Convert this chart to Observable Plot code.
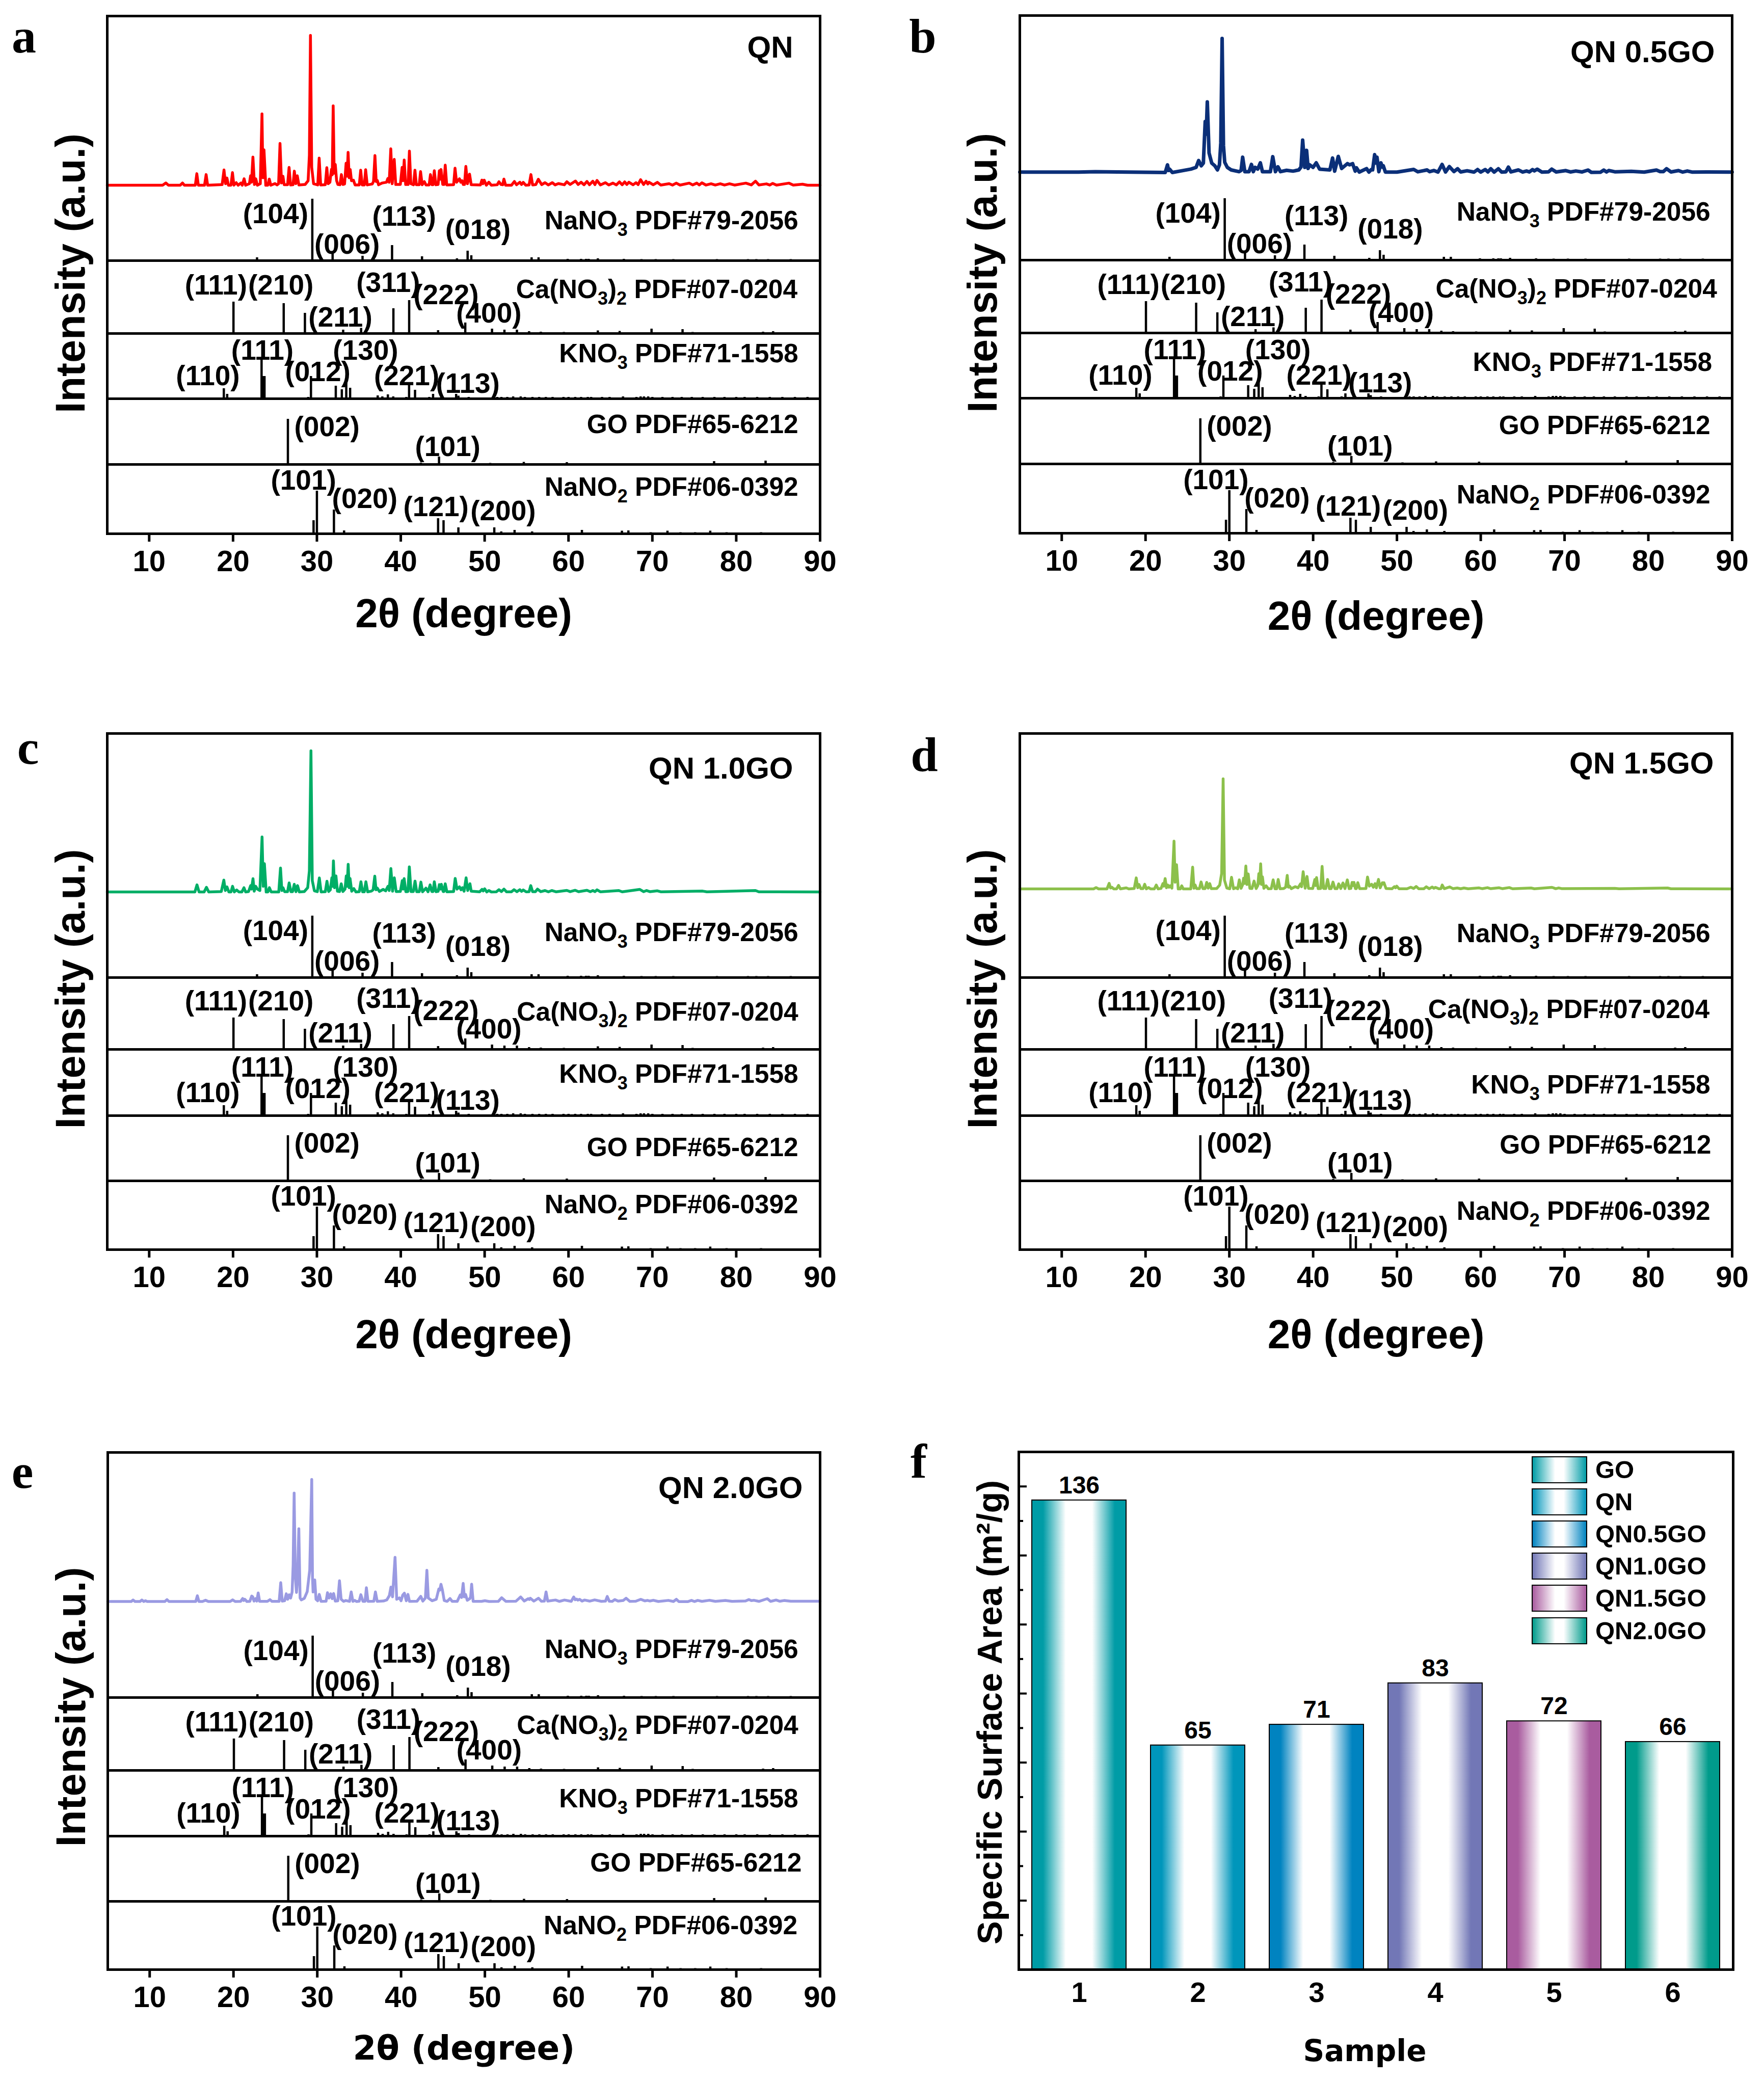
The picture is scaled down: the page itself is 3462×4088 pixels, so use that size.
<!DOCTYPE html>
<html>
<head>
<meta charset="utf-8">
<script src="https://cdn.jsdelivr.net/npm/d3@7"></script>
<script src="https://cdn.jsdelivr.net/npm/@observablehq/plot@0.6"></script>
<style>
html,body{margin:0;padding:0;background:#fff}
#page{position:relative;width:3462px;height:4088px;background:#fff;overflow:hidden;font-family:"Liberation Sans",Arial,sans-serif}
.letter{position:absolute;font:bold 96px "Liberation Serif",serif;line-height:1;color:#000}
.swatch{position:absolute;width:109px;height:53px;box-sizing:border-box;border:2px solid #000}
.legtext{position:absolute;font:bold 49px "Liberation Sans",sans-serif;line-height:53px;color:#000}
</style>
</head>
<body>
<div id="page"></div>
<script>
// ---------- XRD curves: [2theta, relative intensity] ----------
const qnCurve = [[5,0],[11.6,0],[11.99,1.5],[12.3,0],[13.7,0],[13.97,1.5],[14.2,0],[15.5,0],[15.68,7.7],[15.86,0],[16.6,0],[16.79,7.1],[16.97,0],[18.7,.4],[18.92,10.2],[19.1,1],[19.27,4.8],[19.45,0],[19.75,0],[19.93,8.4],[20.1,0],[20.38,1.7],[20.6,0],[20.94,1.5],[21.1,0],[21.32,4.3],[21.5,0],[21.95,1],[22.09,6.3],[22.2,2],[22.37,18.8],[22.55,.5],[22.71,4.3],[22.9,0],[23.25,1],[23.45,47.6],[23.56,5],[23.69,23.6],[23.9,0],[24.15,0],[24.32,4.1],[24.5,0],[25,1.1],[25.25,.2],[25.43,1],[25.6,27.9],[25.78,1.5],[25.95,6],[26.1,.3],[26.5,.3],[26.68,11.9],[26.86,.2],[27.15,.3],[27.31,9.4],[27.48,1],[27.66,6.3],[27.85,.2],[28.6,.5],[28.95,3],[29.1,20],[29.23,100],[29.38,12],[29.6,1],[30.1,.2],[30.27,18.1],[30.45,.2],[31,.3],[31.18,11.7],[31.35,1],[31.55,2],[31.73,10.5],[31.83,7],[31.94,53],[32.06,8],[32.19,13.9],[32.35,3],[32.5,.5],[32.75,.3],[32.92,7.1],[33.1,.5],[33.3,.8],[33.48,14.7],[33.6,6],[33.72,21.9],[33.85,5],[33.97,10.5],[34.12,3],[34.35,3.4],[34.55,.2],[35.05,.2],[35.22,10],[35.4,.2],[35.65,.2],[35.81,10.4],[36,.2],[36.6,.8],[36.75,2.5],[36.92,19.8],[37.07,2.5],[37.2,3.2],[37.35,.3],[37.8,1.5],[38.3,2],[38.46,4.5],[38.62,2],[38.81,24.3],[38.98,1],[39.22,17.3],[39.4,.5],[39.95,.5],[40.16,11.9],[40.27,3],[40.41,16.8],[40.58,.5],[40.87,.5],[41.03,22.8],[41.2,1],[41.52,.3],[41.69,10],[41.86,.3],[42.2,.3],[42.36,9.1],[42.55,.3],[42.81,2.4],[43,.2],[43.38,.2],[43.54,7.1],[43.72,.3],[43.84,.3],[44,9.7],[44.18,.3],[44.45,.5],[44.6,9.7],[44.7,4],[44.8,10.5],[45,.5],[45.15,.5],[45.3,13.4],[45.48,.2],[46.3,.3],[46.47,11.4],[46.65,2],[47,4.3],[47.15,2],[47.3,3],[47.45,.5],[47.6,.5],[47.76,12.6],[47.95,1],[48.2,7.4],[48.4,.3],[49.5,.2],[49.67,3.4],[49.8,1],[49.95,3.4],[50.2,0],[50.5,2],[50.8,0],[51.5,.3],[51.7,2.3],[51.95,.5],[52.15,.3],[52.3,4.1],[52.5,0],[53.2,0],[53.55,2.5],[53.8,.3],[54.2,2],[54.4,.5],[54.6,1.9],[54.9,0],[55.3,.2],[55.52,7.1],[55.72,.2],[56.1,.4],[56.4,4],[56.8,.4],[57.2,1.7],[57.6,.2],[58.07,1.7],[58.4,.2],[58.8,1.1],[59.5,.3],[59.8,2.3],[60.2,.5],[60.83,2.8],[61.15,.5],[61.5,2],[61.85,.3],[62.2,2.5],[62.5,.3],[62.9,2.7],[63.15,.4],[63.4,3.2],[63.8,.2],[64.4,1.7],[64.8,.2],[65.3,1.4],[65.7,.2],[66.07,2.2],[66.4,.3],[66.7,2.2],[66.95,.5],[67.2,2],[67.7,.3],[68.05,1.7],[68.3,.4],[68.6,3.7],[68.95,.5],[69.25,2.7],[69.45,.8],[69.6,2],[70.1,.3],[70.6,1.9],[71,.1],[72,1],[72.4,.1],[72.85,1.4],[73.3,.1],[74.4,1.4],[74.8,.2],[75.3,1.4],[75.6,.2],[75.9,1.6],[76.4,.1],[77,1],[77.5,.1],[78.1,1],[78.6,.1],[79.2,1],[79.8,.1],[81.15,1.4],[81.8,.2],[82.3,2.7],[82.7,.2],[83.6,.9],[84,.1],[84.35,1.2],[84.8,.1],[86.3,1.4],[86.8,.1],[87.9,.7],[88.5,0],[90,0]];

const qn05Curve = [[5,.3],[12,.3],[14,.6],[18,.3],[22.35,0],[22.62,5.7],[22.75,1.5],[22.87,2.5],[23.2,0],[24.33,1.3],[25.41,2.5],[26.03,3.8],[26.34,8.9],[26.65,5],[26.9,7],[27.12,38],[27.24,28.6],[27.37,52.7],[27.58,14.6],[27.9,7],[28.27,5],[28.58,1.9],[28.82,5.7],[28.98,22],[29.14,100],[29.3,20],[29.45,7.6],[29.76,3.8],[30.22,1.9],[31.15,.6],[31.4,1.5],[31.59,11.4],[31.85,.6],[32.35,.6],[32.64,6],[32.86,.6],[33.08,3.8],[33.39,2.5],[33.7,7.2],[33.95,.6],[34.9,.6],[35.18,11.8],[35.5,.6],[35.8,4.2],[36.1,.6],[36.83,1.6],[37.6,1],[38.29,1.9],[38.55,4],[38.75,24.1],[39,3.8],[39.22,16.5],[39.4,3],[39.59,5.7],[39.99,3.8],[40.37,7.2],[40.77,2.5],[42,1.9],[42.32,10.8],[42.57,1],[43,12],[43.4,3],[44.09,6.6],[44.34,5.7],[44.71,6.6],[45.02,1],[45.17,3.5],[45.5,.3],[46.38,2.9],[46.65,.3],[46.94,2.2],[47.1,2],[47.34,13.3],[47.5,7],[47.62,11.4],[47.84,.6],[48.09,7.2],[48.25,4],[48.37,5],[48.62,.3],[50,.3],[52,2.3],[52.5,.5],[53.6,1.9],[53.9,.6],[54.4,1.5],[54.9,.3],[55.39,6],[55.8,.4],[56.25,4.4],[56.8,.7],[57.24,2.8],[57.6,.4],[58.37,1.3],[59.2,.3],[59.62,2.2],[60,.3],[60.53,2.2],[60.85,.4],[61.2,2.8],[61.6,.3],[62.1,2.8],[62.5,.3],[63,.5],[63.3,4],[63.6,.4],[64.5,1.9],[65,.3],[65.46,1.1],[65.8,.4],[66.18,2.2],[66.4,1.2],[66.74,2.5],[67.3,.3],[68.1,.5],[68.47,2.5],[69,.4],[70.15,1.4],[70.7,.4],[71.35,1.1],[72.1,.4],[72.8,1.8],[73.2,.1],[74.3,.2],[74.67,1.8],[75,.4],[75.3,1.5],[76,.5],[77.96,.9],[79.5,.3],[80.97,1.8],[81.4,.7],[81.8,.7],[82.17,2.8],[82.7,.4],[83.6,1.4],[84.1,.3],[84.65,1.1],[85.2,.3],[87,.4],[90,.3]];

const qn10Curve = [[5,0],[15.45,0],[15.7,5],[15.95,0],[16.55,0],[16.83,3.3],[17.1,0],[18.6,.3],[18.9,8.4],[19.08,1],[19.27,3.6],[19.5,0],[19.75,0],[19.94,4],[20.15,0],[20.43,1.4],[20.7,0],[21.05,0],[21.3,3],[21.5,0],[21.85,.3],[22.1,4.5],[22.2,2],[22.38,9.4],[22.52,.5],[22.7,4],[22.9,2],[23.2,1],[23.46,39],[23.6,4],[23.74,20],[23.95,0],[24.15,0],[24.33,3],[24.55,0],[25.45,0],[25.66,17],[25.82,1],[25.96,3],[26.15,.2],[26.5,.2],[26.69,6.4],[26.9,.2],[27.1,.2],[27.3,5.4],[27.5,.2],[27.69,4.5],[27.9,0],[28.5,.3],[28.9,3],[29.1,15],[29.29,100],[29.45,8],[29.7,.8],[30.05,.2],[30.29,9.9],[30.5,0],[31,.2],[31.2,7.6],[31.4,.3],[31.6,1.5],[31.78,10],[31.87,4],[31.97,22],[32.1,3],[32.27,11.4],[32.45,.5],[32.7,.3],[32.9,5.8],[33.1,.3],[33.35,2],[33.5,11.4],[33.6,4],[33.73,19.6],[33.85,3],[33.95,9.6],[34.15,.5],[34.4,2.4],[34.65,0],[35.05,.2],[35.25,7.2],[35.45,.1],[35.65,.1],[35.84,7.2],[36.05,.1],[36.5,.6],[36.7,1.5],[36.9,11.2],[37.05,1.5],[37.2,2.7],[37.45,.3],[37.9,1.8],[38.2,.8],[38.47,4],[38.62,1],[38.82,16.6],[39.02,.5],[39.23,10],[39.45,.3],[39.95,.4],[40.18,8],[40.28,2],[40.4,9.5],[40.6,.2],[40.85,.3],[41.02,17.8],[41.22,.3],[41.5,.3],[41.7,7.7],[41.9,.2],[42.2,.2],[42.4,7],[42.6,.1],[43,2.7],[43.25,.1],[43.5,5],[43.7,.3],[43.85,.3],[44,7.2],[44.2,.2],[44.45,.4],[44.6,5.2],[44.72,2],[44.84,5.4],[45.05,.3],[45.15,.3],[45.3,5.8],[45.5,.1],[46.3,.3],[46.49,9.6],[46.7,2],[47,3.6],[47.18,1.5],[47.36,3],[47.55,.5],[47.79,10],[47.98,1],[48.25,5.8],[48.4,.5],[49.4,.1],[49.69,1.8],[49.83,.7],[50,2.2],[50.25,0],[50.5,1],[50.8,0],[51.4,.1],[51.7,1.6],[52,.3],[52.3,2],[52.6,.1],[53.2,.1],[53.5,1.6],[53.85,.2],[54.2,1.6],[54.4,.4],[54.6,1.4],[54.95,.1],[55.3,.2],[55.5,4.5],[55.72,.2],[56.05,.2],[56.3,2],[56.7,.2],[57.2,1],[57.6,.1],[58,1],[58.5,.1],[59.8,1.1],[60.2,.2],[60.8,1.2],[61.2,.2],[62.2,1.2],[62.6,.2],[62.9,1],[63.15,.2],[63.4,1.5],[63.8,.1],[66,1],[66.4,.1],[68.5,1.8],[68.95,.2],[69.3,1],[69.7,.2],[70.6,.8],[71,.1],[76,.6],[76.5,.1],[82.3,1],[82.7,.1],[90,0]];

const qn15Curve = [[5,0],[13.8,0],[14.1,1.2],[14.4,0],[15.4,0],[15.66,5.1],[15.82,.8],[15.99,1.5],[16.2,0],[16.55,0],[16.78,3.2],[17,0],[17.7,.9],[18,0],[18.65,.3],[18.89,10],[19.07,1],[19.22,4],[19.45,.2],[19.7,.2],[19.9,4.2],[20.1,0],[20.36,1.2],[20.6,0],[21.05,0],[21.28,3.5],[21.5,0],[21.85,.4],[22.07,4.8],[22.18,2.5],[22.34,9.4],[22.5,1],[22.66,3.5],[22.8,1.5],[22.94,2.8],[23.15,.7],[23.4,43.4],[23.53,6],[23.7,22],[23.9,0],[24.15,0],[24.32,2.8],[24.5,0],[25.4,0],[25.62,19.8],[25.78,.6],[25.92,3.5],[26.1,.2],[26.43,.2],[26.63,6.3],[26.85,.2],[27.1,.2],[27.3,5.9],[27.47,.7],[27.66,4.8],[27.85,.2],[28.5,.4],[28.85,3.5],[29.08,14],[29.26,100],[29.42,8],[29.7,.8],[30.05,.1],[30.26,10.5],[30.5,.1],[30.75,1],[31,.1],[31.19,8.2],[31.4,.5],[31.6,4],[31.7,9.7],[31.83,5],[31.97,20.8],[32.1,4],[32.25,13.6],[32.45,.5],[32.7,.3],[32.95,7.1],[33.2,.3],[33.4,3],[33.52,13.9],[33.62,5],[33.74,22.8],[33.85,4],[33.95,11],[34.12,.5],[34.39,2.8],[34.65,.1],[35,.2],[35.23,8.2],[35.45,.1],[35.65,.1],[35.83,8.6],[36.05,.1],[36.5,.4],[36.72,1.5],[36.91,12.3],[37.05,1.5],[37.19,2.5],[37.4,.2],[37.86,2],[38.2,1],[38.49,4.6],[38.62,2],[38.81,15.6],[39.05,.6],[39.27,11.3],[39.45,.5],[39.95,.3],[40.2,8.5],[40.3,3],[40.41,10.3],[40.6,.2],[40.9,.3],[41.07,20.5],[41.25,.4],[41.5,.3],[41.72,8.6],[41.95,.2],[42.15,.2],[42.37,6.2],[42.6,.2],[42.85,.2],[43.05,4.6],[43.3,.3],[43.56,5.4],[43.8,.3],[44.08,8.2],[44.3,.2],[44.5,.4],[44.65,5.9],[44.76,3],[44.87,5.9],[45.05,.2],[45.15,.2],[45.33,5.7],[45.55,.2],[46.3,.3],[46.49,10.8],[46.7,2.5],[46.98,4.2],[47.18,1.5],[47.39,4.8],[47.55,1],[47.8,8.6],[48,1],[48.26,5.6],[48.36,4.5],[48.45,5.6],[48.7,.3],[49.4,.1],[49.7,2],[49.83,1],[49.97,2.5],[50.25,.1],[51.2,.1],[51.65,1.5],[52,.4],[52.3,2.2],[52.6,.1],[53.2,.1],[53.5,1.9],[53.85,.2],[54.2,1.7],[54.4,.6],[54.6,1.4],[55,.1],[55.25,.2],[55.4,3.5],[55.65,.2],[56.3,1.8],[56.7,.2],[57.2,.8],[57.6,.1],[58,.8],[58.5,.1],[59.8,.9],[60.2,.2],[60.8,1.1],[61.2,.2],[62.2,1],[62.6,.2],[63.4,1.2],[63.8,.1],[66,.8],[66.4,.1],[68.5,1.4],[68.95,.2],[69.3,.9],[69.7,.2],[76,.5],[76.5,.1],[82.3,.8],[82.7,.1],[90,0]];

const qn20Curve = [[5,.2],[7.8,.2],[8.02,1.4],[8.25,.2],[8.85,.2],[9.07,1.4],[9.3,.2],[9.5,.8],[9.7,.2],[11.8,.2],[12.07,1.7],[12.3,.2],[15.5,.2],[15.69,4.9],[15.88,.2],[16.3,.2],[16.67,1.2],[17,.2],[19.6,.2],[19.9,1.5],[20.2,.2],[20.85,.3],[21.1,2.6],[21.22,1],[21.35,2],[21.6,.2],[21.95,.3],[22.18,4.7],[22.3,4],[22.45,.5],[22.64,2.5],[22.78,.5],[22.95,7.2],[23.12,.3],[24.05,.3],[24.35,1.7],[24.6,.3],[25.45,.3],[25.64,15.6],[25.82,.5],[26.1,.8],[26.3,6.5],[26.47,2],[26.65,5.7],[26.82,3],[27,8],[27.12,30],[27.24,88.9],[27.38,20],[27.52,7.6],[27.65,20],[27.8,59.7],[27.95,3],[28.1,1.5],[28.46,2.8],[28.8,8.3],[29.1,26],[29.34,100],[29.43,20],[29.5,8],[29.7,17.8],[29.85,2],[30.05,.8],[30.24,6],[30.45,.3],[31.05,.4],[31.22,7.4],[31.4,3],[31.6,6.5],[31.78,2.5],[31.95,6.7],[32.15,.5],[32.45,.7],[32.65,17.2],[32.85,2],[33.15,.3],[33.4,1],[33.85,.3],[34.05,8],[34.25,.3],[34.47,1.1],[34.7,.2],[35,.4],[35.2,5.8],[35.45,.3],[35.7,.3],[35.86,11.5],[36.05,.3],[36.75,.4],[36.94,8],[37.15,.3],[37.9,.6],[38.3,1.5],[38.6,5],[38.79,12],[38.98,4],[39.28,36.4],[39.48,2],[39.8,3.2],[40,.8],[40.2,5.5],[40.4,7],[40.62,.8],[40.82,6],[41,.3],[41.9,.4],[42.35,4.4],[42.6,.5],[42.9,3],[43.08,25.7],[43.25,3],[43.7,.8],[44.2,2],[44.5,10.4],[44.62,9.5],[44.76,14.3],[44.93,9.7],[45.15,1],[45.5,.3],[45.84,2.6],[46.1,.3],[46.45,.3],[46.7,.3],[47.06,5.6],[47.22,3.5],[47.41,15],[47.55,4],[47.69,6],[47.9,1.2],[48.2,2.5],[48.3,4],[48.42,14.4],[48.6,.3],[49.6,.3],[50,.8],[50.5,.2],[51.6,.3],[52,3.3],[52.5,.3],[53.7,.4],[54.27,3.9],[54.7,.6],[55.18,2.5],[55.3,1.8],[55.42,2.9],[55.85,.5],[56.4,2.9],[56.75,.4],[57.1,.5],[57.3,8],[57.5,.5],[58.43,1.4],[58.9,.3],[59.5,1.4],[60.3,.3],[60.6,3.9],[60.78,1.6],[60.95,2.2],[61.1,1.3],[61.3,2],[61.6,.5],[61.9,1.4],[62.5,.5],[63.1,1.5],[63.9,.3],[64.4,.5],[64.6,4.3],[64.85,.4],[65.2,.3],[65.5,1.8],[65.9,.5],[66.5,1],[66.85,2.9],[67.3,.3],[68,.4],[68.6,2],[69.1,.7],[69.4,1.1],[69.7,.6],[70.1,1.2],[70.7,.2],[71.9,1.1],[72.5,.2],[72.85,2],[73.15,.1],[74.2,.1],[74.65,1.1],[75,.2],[75.4,1.1],[75.9,.3],[76.8,1.2],[77.5,.3],[78.7,1],[79.5,.3],[81.1,.6],[81.5,1.8],[81.8,.9],[82.1,1.2],[82.7,.3],[83.7,2.5],[84.1,.3],[84.75,1.4],[85.2,.4],[85.7,1],[86.5,.4],[90,.4]];

// ---------- Reference patterns: 2theta and stick height ----------
const nano3Theta  = [22.86,29.45,31.87,35.44,38.96,42.53,46.7,47.97,48.41,55.6,56.43,59.9,61.5,62.1,62.4,63.5,66.6,68.7,70.4,72.5,77.7,81.4,82.4,83.8,86.5];
const nano3Height = [6,121,15,9,30,8,4,19,10,6,6,3,3,3,3,4,3,2.5,2.5,2.5,2.5,2.5,2.5,2.5,2.5];
const canoTheta   = [20.05,26.04,28.57,33.13,35.27,39.12,41.0,44.45,47.69,50.88,52.36,53.85,55.3,56.7,59.45,63.5,66.1,69.9,73.6,74.8,83.2,84.4];
const canoHeight  = [62,59,40,7,10.5,49,65,6,21,9,7,7,4,3,2.5,5.5,4.5,9,8,2.5,3,4];
const kno3Theta   = [16.76,18.9,19.3,23.4,23.62,23.75,27.6,28.96,29.29,32.25,32.97,33.5,33.96,37.25,37.8,38.46,39.1,40.66,40.99,41.7,43.4,43.85,44.8,46.6,46.87,48.1,51.5,52,52.7,53.4,54.3,54.8,55.7,56.5,57.3,58.1,59.4,60,60.8,61.5,62.3,62.7,64,64.9,66.5,68.1,68.6,69,69.5,70,71.2,72.4,73.5,74.7,76,77.4,78.6,80,81,82.5,84,85.5,87,88.5];
const kno3Height  = [2,20,9,76,44,44,2,3,44,25,18,32,21,6,4,8,4,3,30,17,3,9,2.5,9,5.5,3,3,3,3,4,4,3,3,3,3,3,3,3,3,3,3,3,3,3,4,3,4,4,4,3,3,3,3,3,3,3,3,3,3,3,3,3,3,3];
const goTheta     = [26.54,42.4,44.56,50.66,54.67,59.8,71.4,77.36,83.5,87.1];
const goHeight    = [89,3,15,2.5,4.5,4,2,6,7,2];
const nano2Theta  = [22.9,29.6,30.0,32.03,33.24,44.45,45.1,46.87,51.15,51.98,53.57,55.66,61.6,66.37,67.14,69.8,71.8,73.35,75.1,76.9,78.85,82.96];
const nano2Height = [2,26,84,47,6,30,26,12,12,4,7,4,7,5.5,6,2.5,5.5,2.5,2.5,5.5,2.5,2.5];
const refSticks = [[nano3Theta,nano3Height],[canoTheta,canoHeight],[kno3Theta,kno3Height],[goTheta,goHeight],[nano2Theta,nano2Height]];

// ---------- Text ----------
const refNames = ["NaNO₃ PDF#79-2056","Ca(NO₃)₂ PDF#07-0204","KNO₃ PDF#71-1558","GO PDF#65-6212","NaNO₂ PDF#06-0392"];
const hklLayer = [0,0,0,0,1,1,1,1,1,1,2,2,2,2,2,2,3,3,4,4,4,4];
const hklText  = ["(104)","(006)","(113)","(018)","(111)","(210)","(211)","(311)","(222)","(400)","(110)","(111)","(012)","(130)","(221)","(113)","(002)","(101)","(101)","(020)","(121)","(200)"];
const hklTheta = [25.07,33.6,40.4,49.2,17.96,25.7,32.8,38.5,45.4,50.5,17,23.5,30.1,35.8,40.7,48,31.2,45.6,28.4,35.7,44.2,52.2];
const hklLift  = [91,31,86,60,94,94,31,99,75,39,44,94,52,94,44,29,73,34,104,68,52,44];
const xTicks = [10,20,30,40,50,60,70,80,90];

// ---------- Surface area bars ----------
const samples = [1,2,3,4,5,6];
const sampleNames = ["GO","QN","QN0.5GO","QN1.0GO","QN1.5GO","QN2.0GO"];
const surfaceArea = [136,65,71,83,72,66];
const barColors = ["#009ca6","#0096bb","#0083c0","#7277b6","#a95c9f","#009b8b"];
const majorTicks = [20,40,60,80,100,120,140];
const minorTicks = [10,30,50,70,90,110,130];

const BOLD = "Liberation Sans, Arial, sans-serif";
const page = document.getElementById("page");

// Show the subscript characters of the phase names as lowered, smaller digits.
function lowerSubscripts(svg) {
  const subs = {"₂":"2","₃":"3"};
  d3.select(svg).selectAll("text").each(function() {
    const s = this.textContent;
    if (!/[₂₃]/.test(s) || this.children.length) return;
    const node = d3.select(this).text(null);
    let lowered = false;
    s.split(/([₂₃])/).filter(p=>p).forEach(part => {
      const isSub = part in subs;
      const t = node.append("tspan").text(isSub ? subs[part] : part);
      if (isSub) t.attr("font-size",36).attr("dy", lowered ? null : 13);
      else if (lowered) t.attr("dy",-13);
      lowered = isSub;
    });
  });
  return svg;
}

function xrdPanel(c) {
  const H = c.top;
  const marks = [
    // reference sticks
    ...refSticks.map(([t,h],i) => Plot.ruleX(t.map((v,j)=>({t:v,y1:c.bases[4-i],y2:c.bases[4-i]+h[j]})),
      {x:"t",y1:"y1",y2:"y2",stroke:"#000",strokeWidth:4.5})),
    // layer dividers
    Plot.ruleY(c.bases.slice(1),{stroke:"#000",strokeWidth:5}),
    // measured curve
    Plot.line(c.curve,{x:d=>d[0],y:d=>c.base+d[1]*c.peak/100,stroke:c.color,strokeWidth:c.lw,strokeLinejoin:"round",curve:"linear"}),
    // hkl labels
    Plot.text(hklText.map((s,i)=>({s,t:hklTheta[i],y:c.bases[4-hklLayer[i]]+hklLift[i]})),
      {x:"t",y:"y",text:"s",fontSize:55,fontWeight:"bold",fill:"#000",lineAnchor:"middle"}),
    // reference names: x is the 2theta where the text ends
    Plot.text(refNames.map((s,i)=>({s,y:c.bases[4-i]+c.nameLift[i],t:c.nameEnd[i]})),
      {x:"t",y:"y",text:"s",fontSize:51.5,fontWeight:"bold",fill:"#000",textAnchor:"end",lineAnchor:"middle"}),
    // sample name
    Plot.text([c.name],{frameAnchor:"top-right",dx:c.nameX,dy:c.nameY,fontSize:60,fontWeight:"bold",fill:"#000",textAnchor:"end",lineAnchor:"middle"}),
    Plot.frame({stroke:"#000",strokeWidth:5}),
    Plot.axisX({ticks:xTicks,tickSize:16,strokeWidth:5,tickPadding:16,fontSize:58,fontWeight:"bold",fill:"#000",stroke:"#000",label:null}),
    // axis titles
    Plot.text(["2θ (degree)"],{frameAnchor:"bottom",dy:c.xTitleDy,fontSize:c.xTitleSize||80,fontFamily:c.xTitleFont||BOLD,fontWeight:"bold",fill:"#000",lineAnchor:"middle"}),
    Plot.text(["Intensity (a.u.)"],{frameAnchor:"left",textAnchor:"middle",dx:c.yDx,dy:c.yDy,rotate:-90,fontSize:81,fontWeight:"bold",fill:"#000",lineAnchor:"middle"})
  ];
  return lowerSubscripts(Plot.plot({
    width:1731,height:c.h,marginLeft:c.ml,marginRight:c.mr,marginTop:c.mt,marginBottom:c.mb,
    x:{domain:[5,90],axis:null},y:{domain:[0,H],axis:null},
    style:{position:"absolute",left:c.x+"px",top:c.y+"px",fontFamily:BOLD,background:"transparent",overflow:"visible",maxWidth:"none",color:"#000"},
    marks
  }));
}

const panels = [
 {curve:qnCurve,color:"#ff0000",lw:5.5,name:"QN",x:0,y:0,h:1300,ml:210,mr:122,mt:31,mb:253,top:1016,bases:[0,136,265,393,536],base:684,peak:294,nameLift:[78,86,88,78,91],nameEnd:[87.4,87.3,87.4,87.4,87.4],nameX:-53,nameY:62,xTitleDy:158,yDx:-70,yDy:-3},
 {curve:qn05Curve,color:"#0b2f78",lw:7,name:"QN 0.5GO",x:1731,y:0,h:1300,ml:270,mr:63,mt:30,mb:254,top:1016,bases:[0,136,265,393,536],base:708,peak:263,nameLift:[94,86,70,75,75],nameEnd:[87.4,88.2,87.6,87.4,87.4],nameX:-34,nameY:72,xTitleDy:164,yDx:-71,yDy:-3},
 {curve:qn10Curve,color:"#00ae66",lw:5.5,name:"QN 1.0GO",x:0,y:1300,h:1440,ml:210,mr:122,mt:139,mb:288,top:1013,bases:[0,135,263,393,534],base:702,peak:277,nameLift:[88,73,81,65,88],nameEnd:[87.4,87.4,87.4,87.4,87.4],nameX:-53,nameY:69,xTitleDy:168,yDx:-70,yDy:-5},
 {curve:qn15Curve,color:"#8cc04b",lw:5.5,name:"QN 1.5GO",x:1731,y:1300,h:1440,ml:270,mr:63,mt:139,mb:288,top:1013,bases:[0,135,263,393,534],base:708,peak:216,nameLift:[86,78,60,70,75],nameEnd:[87.4,87.3,87.4,87.5,87.4],nameX:-36,nameY:59,xTitleDy:168,yDx:-71,yDy:-5},
 {curve:qn20Curve,color:"#9a9ae2",lw:5.5,name:"QN 2.0GO",x:0,y:2740,h:1348,ml:211,mr:122,mt:110,mb:223,top:1015,bases:[0,134,262,391,534],base:722,peak:240,nameLift:[94,88,73,75,86],nameEnd:[87.4,87.4,87.4,87.8,87.3],nameX:-34,nameY:70,xTitleDy:155,xTitleFont:"DejaVu Sans",xTitleSize:66,yDx:-70,yDy:-8}
];
panels.forEach(c => page.appendChild(xrdPanel(c)));

// ---------- Panel f ----------
function defsMark() {
  const svg = d3.create("svg:g");
  const defs = svg.append("defs");
  barColors.forEach((col,i) => {
    const g = defs.append("linearGradient").attr("id","bar"+i).attr("x1",0).attr("x2",1).attr("y1",0).attr("y2",0);
    [[0,col],[.12,col],[.36,"#fff"],[.64,"#fff"],[.88,col],[1,col]].forEach(([o,k])=>g.append("stop").attr("offset",o).attr("stop-color",k));
  });
  return svg.node();
}
const barRows = samples.map((s,i)=>({s,v:surfaceArea[i],i}));
page.appendChild(Plot.plot({
  width:1731,height:1288,marginLeft:268,marginRight:61,marginTop:49,marginBottom:223,
  x:{domain:samples,paddingInner:.206,paddingOuter:.103,axis:null},
  y:{domain:[0,150],axis:null},
  style:{position:"absolute",left:"1731px",top:"2800px",fontFamily:BOLD,background:"transparent",overflow:"visible",maxWidth:"none",color:"#000"},
  marks:[
    defsMark,
    Plot.barY(barRows,{x:"s",y:"v",fill:{value:d=>`url(#bar${d.i})`,scale:null},stroke:"#000",strokeWidth:2}),
    Plot.text(barRows,{x:"s",y:"v",text:d=>String(d.v),dy:-29,fontSize:48,fontWeight:"bold",fill:"#000",lineAnchor:"middle"}),
    Plot.axisY({anchor:"left",ticks:majorTicks,tickSize:-16,strokeWidth:4,stroke:"#000",fill:"none",label:null}),
    Plot.axisY({anchor:"left",ticks:minorTicks,tickSize:-9,strokeWidth:4,stroke:"#000",fill:"none",label:null}),
    Plot.frame({stroke:"#000",strokeWidth:5}),
    Plot.text(barRows,{x:"s",frameAnchor:"bottom",text:d=>String(d.s),dy:46,fontSize:56,fontWeight:"bold",fill:"#000",lineAnchor:"middle"}),
    Plot.text(["Sample"],{frameAnchor:"bottom",dx:-22,dy:161,fontSize:58,fontFamily:"DejaVu Sans",fontWeight:"bold",fill:"#000",lineAnchor:"middle"}),
    Plot.text(["Specific Surface Area (m²/g)"],{frameAnchor:"left",textAnchor:"middle",dx:-55,dy:3,rotate:-90,fontSize:68.5,fontWeight:"bold",fill:"#000",lineAnchor:"middle"})
  ]
}));

// ---------- Legend of panel f ----------
sampleNames.forEach((n,i)=>{
  const col = barColors[i], top = 2857.5 + i*63.2;
  const sw = document.createElement("div");
  sw.className="swatch"; sw.style.left="3006px"; sw.style.top=top+"px";
  sw.style.background=`linear-gradient(90deg,${col} 0%,#fff 42%,#fff 58%,${col} 100%)`;
  page.appendChild(sw);
  const t = document.createElement("div");
  t.className="legtext"; t.style.left="3131px"; t.style.top=top+"px"; t.textContent=n;
  page.appendChild(t);
});

// ---------- Panel letters ----------
const letters = ["a","b","c","d","e","f"];
const letterX = [47,1811,55,1814,44,1803];
const letterY = [71,71,1467,1481,2888,2868];
letters.forEach((s,i)=>{
  const d=document.createElement("div");
  d.className="letter"; d.textContent=s;
  d.style.left=letterX[i]+"px"; d.style.top=letterY[i]+"px"; d.style.transform="translate(-50%,-50%)";
  page.appendChild(d);
});
</script>
</body>
</html>
